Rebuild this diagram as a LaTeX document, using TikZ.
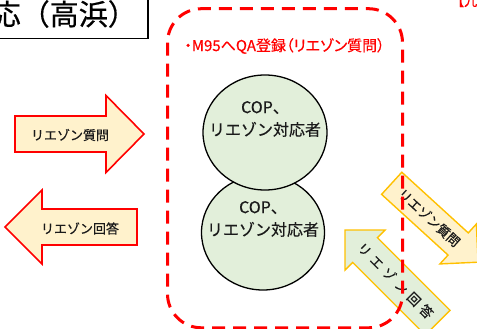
\documentclass[tikz,border=0pt]{standalone}
\usepackage{fontspec}
\setmainfont{Noto Sans CJK JP}[FakeBold=0.5]
\newfontfamily\jpp{Noto Sans CJK JP}[RawFeature=+palt, FakeBold=0.5]
\usetikzlibrary{shapes.geometric}
\definecolor{arrowyellow}{HTML}{FFF2CC}
\definecolor{arrowgreen}{HTML}{E2EFDA}
\definecolor{gold}{HTML}{FFC000}
\definecolor{redline}{HTML}{FF0000}
\definecolor{inkdark}{HTML}{1A1A1A}
\tikzset{
  redarrow/.style={draw=redline, line width=1.6pt, fill=arrowyellow, line join=miter},
  goldarrowY/.style={draw=gold, line width=1.4pt, fill=arrowyellow, line join=miter},
  goldarrowG/.style={draw=gold, line width=1.4pt, fill=arrowgreen, line join=miter},
  copcircle/.style={ellipse, draw=black, line width=1.3pt, fill=arrowgreen, inner sep=0pt},
  cirtext/.style={align=center, text=inkdark, font=\fontsize{16}{22.5}\selectfont, inner sep=0pt},
  arrtext/.style={text=inkdark, font=\fontsize{13}{14}\selectfont, inner sep=0pt},
  diagtext/.style={text=inkdark, font=\fontsize{13}{14}\selectfont, inner sep=0pt},
  dashframe/.style={draw=redline, line width=3pt, dash pattern=on 13pt off 8pt, rounded corners=34pt},
}
\begin{document}
\begin{tikzpicture}[x=1pt,y=-1pt]
\useasboundingbox (0,0) rectangle (477,329);
\clip (0,0) rectangle (477,329);

% title box (cut off)
\draw[line width=1.2pt] (-10,-10) rectangle (148,38.5);
\node[anchor=east, font=\fontsize{29}{30}\selectfont, inner sep=0pt] (title) at (137,14) {応（高浜）};

% top-right red text (cut off)
\node[anchor=base west, text=redline, font=\fontsize{13}{14}\selectfont, inner sep=0pt] (rtext) at (451,6) {【九};

% left arrows
\draw[redarrow] (15,116) -- (106,116) -- (106,95.5) -- (144,134) -- (106,172.5) -- (106,152) -- (15,152) -- cycle;
\node[arrtext] (q1) at (70,135) {リエゾン質問};
\draw[redarrow] (5,227) -- (42,190) -- (42,209) -- (137,209) -- (137,245) -- (42,245) -- (42,264) -- cycle;
\node[arrtext] (a1) at (80,228.5) {リエゾン回答};

% circles
\node[copcircle, minimum width=123pt, minimum height=115pt] (c2) at (263,232.5) {};
\node[cirtext] (c2t) at (263,219) {COP、\\リエゾン対応者};
\node[copcircle, minimum width=124pt, minimum height=115pt] (c1) at (265,132.5) {};
\node[cirtext] (c1t) at (265,119) {COP、\\リエゾン対応者};

% diagonal arrows
\begin{scope}[shift={(391.7,183.3)}, rotate=-42.4]
  \draw[goldarrowY] (0,-15) -- (90,-15) -- (90,-27) -- (117,0) -- (90,27) -- (90,15) -- (0,15) -- cycle;
  \node[diagtext, rotate=-42.4] (q2) at (51,0) {リエゾン質問};
\end{scope}
\begin{scope}[shift={(345,230)}, rotate=-45]
  \draw[goldarrowG] (0,0) -- (28.3,-28.3) -- (28.3,-17.5) -- (131,-17.5) -- (131,17.5) -- (28.3,17.5) -- (28.3,28.3) -- cycle;
  \node[diagtext, rotate=-45] (a2) at (71.5,0) {リ\kern4.5ptエ\kern4.5ptゾ\kern4.5ptン\kern4.5pt回\kern4.5pt答};
\end{scope}

% red dashed frame
\draw[dashframe] (167.5,8.7) rectangle (402.5,327.8);
\node[text=redline, font=\jpp\fontsize{15}{16}\selectfont, inner sep=0pt] (m95) at (284.5,46) {・M95へQA登録（リエゾン質問）};
\end{tikzpicture}
\end{document}
